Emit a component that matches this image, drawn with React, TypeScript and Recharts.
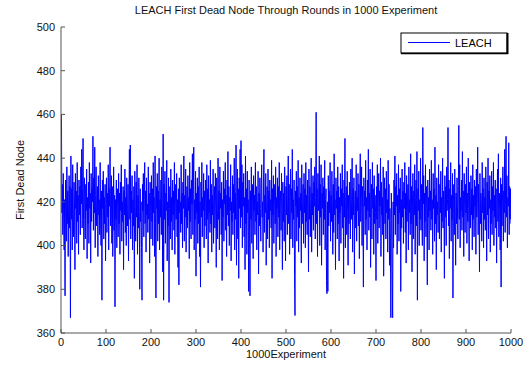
import React from 'react';
import { LineChart, Line, XAxis, YAxis, Legend } from 'recharts';

const TITLE = 'LEACH First Dead Node Through Rounds in 1000 Experiment';
const X_LABEL = '1000Experiment';
const Y_LABEL = 'First Dead Node';
const SERIES_NAME = 'LEACH';

const xTicks = [0, 100, 200, 300, 400, 500, 600, 700, 800, 900, 1000];
const yTicks = [360, 380, 400, 420, 440, 460, 480, 500];

const leachValues = [
  460, 415, 428, 405, 433, 412, 398, 421, 377, 430, 418, 402, 436, 410, 425, 395, 419, 432, 408, 427,
  367, 441, 412, 426, 398, 437, 415, 404, 429, 420, 389, 433, 417, 425, 401, 438, 411, 423, 396, 430,
  414, 427, 405, 436, 419, 444, 408, 426, 449, 412, 398, 431, 420, 403, 428, 416, 435, 394, 422, 410,
  429, 401, 438, 417, 424, 392, 433, 411, 426, 420, 450, 407, 431, 415, 445, 399, 423, 436, 409, 418,
  427, 395, 432, 414, 421, 405, 438, 412, 400, 425, 375, 430, 417, 434, 403, 422, 410, 428, 393, 419,
  431, 406, 424, 413, 437, 398, 426, 418, 445, 409, 420, 432, 401, 427, 395, 415, 436, 407, 423, 372,
  421, 412, 430, 399, 418, 426, 404, 433, 410, 424, 396, 429, 416, 437, 402, 420, 411, 427, 389, 425,
  414, 435, 406, 422, 400, 431, 417, 409, 428, 393, 419, 444, 412, 446, 403, 425, 415, 432, 398, 421,
  409, 427, 385, 434, 418, 402, 429, 413, 437, 396, 423, 408, 431, 415, 380, 426, 411, 420, 399, 375,
  428, 416, 433, 404, 421, 438, 410, 425, 397, 431, 414, 419, 406, 436, 412, 424, 392, 429, 418, 403,
  432, 411, 426, 400, 438, 415, 422, 395, 441, 408, 376, 427, 417, 433, 402, 425, 410, 440, 398, 421,
  413, 430, 405, 436, 419, 388, 451, 375, 428, 412, 434, 401, 424, 416, 439, 393, 420, 409, 431, 374,
  417, 427, 403, 435, 411, 422, 398, 430, 414, 425, 407, 438, 396, 419, 428, 412, 433, 404, 421, 390,
  426, 382, 431, 415, 420, 406, 437, 410, 424, 399, 429, 417, 441, 402, 423, 413, 435, 397, 418, 427,
  408, 432, 416, 422, 394, 438, 411, 426, 403, 430, 419, 442, 405, 425, 445, 398, 421, 412, 434, 386,
  424, 415, 431, 401, 427, 410, 436, 395, 420, 381, 429, 413, 438, 404, 422, 416, 433, 399, 425, 409,
  430, 418, 403, 437, 412, 426, 392, 432, 415, 421, 406, 439, 410, 428, 397, 423, 414, 435, 401, 419,
  427, 408, 433, 416, 390, 431, 420, 403, 440, 412, 425, 398, 436, 417, 424, 405, 429, 384, 421, 413,
  434, 402, 426, 419, 438, 407, 423, 395, 430, 414, 443, 409, 427, 400, 422, 416, 437, 393, 420, 411,
  432, 405, 428, 415, 440, 398, 424, 412, 446, 391, 419, 435, 403, 426, 385, 431, 417, 444, 408, 448,
  413, 437, 399, 429, 418, 433, 404, 422, 389, 441, 410, 426, 396, 434, 415, 421, 379, 430, 407, 377,
  425, 412, 436, 401, 419, 428, 394, 432, 416, 423, 405, 438, 411, 427, 398, 420, 414, 434, 387, 424,
  409, 431, 417, 402, 426, 437, 413, 420, 397, 429, 444, 406, 423, 415, 433, 391, 418, 427, 403, 435,
  412, 425, 399, 430, 416, 421, 408, 439, 385, 426, 414, 432, 401, 419, 428, 410, 436, 395, 422, 417,
  431, 404, 427, 413, 438, 398, 420, 425, 407, 433, 416, 389, 429, 411, 424, 402, 436, 418, 393, 427,
  414, 432, 405, 423, 441, 410, 428, 396, 419, 435, 403, 426, 415, 444, 399, 421, 412, 430, 386, 368,
  425, 418, 434, 402, 427, 413, 439, 397, 422, 408, 431, 416, 424, 392, 437, 410, 420, 428, 401, 433,
  415, 426, 399, 438, 411, 423, 405, 430, 419, 388, 435, 412, 427, 404, 421, 440, 397, 424, 414, 432,
  407, 429, 418, 436, 403, 422, 461, 410, 426, 395, 433, 416, 420, 441, 400, 428, 413, 437, 391, 424,
  417, 431, 405, 427, 412, 439, 398, 421, 426, 384, 378, 420, 379, 432, 409, 425, 415, 438, 402, 423,
  411, 434, 419, 396, 428, 406, 442, 414, 421, 389, 431, 417, 425, 403, 436, 410, 427, 393, 422, 415,
  433, 401, 426, 418, 437, 408, 424, 385, 430, 413, 449, 399, 420, 427, 405, 434, 416, 391, 423, 410,
  429, 417, 403, 435, 421, 412, 440, 397, 426, 414, 431, 387, 419, 425, 408, 437, 402, 422, 416, 433,
  409, 428, 394, 423, 442, 411, 420, 436, 400, 427, 415, 381, 431, 418, 425, 405, 439, 412, 422, 398,
  430, 416, 444, 407, 424, 413, 435, 390, 421, 428, 403, 438, 417, 426, 396, 432, 410, 423, 415, 384,
  427, 412, 437, 401, 420, 433, 408, 425, 418, 440, 395, 429, 414, 422, 405, 436, 386, 419, 431, 410,
  426, 403, 434, 415, 421, 397, 439, 412, 428, 391, 417, 402, 367, 424, 413, 389, 367, 420, 399, 430,
  414, 441, 405, 427, 418, 433, 396, 423, 410, 437, 402, 426, 415, 431, 379, 421, 408, 435, 413, 425,
  401, 429, 417, 438, 406, 424, 392, 432, 411, 420, 428, 398, 436, 415, 421, 405, 442, 410, 427, 388,
  419, 433, 403, 425, 414, 437, 396, 422, 430, 409, 443, 375, 426, 416, 434, 400, 421, 412, 440, 407,
  428, 415, 400, 454, 419, 432, 393, 424, 411, 437, 404, 427, 418, 382, 430, 413, 422, 398, 435, 416,
  425, 407, 439, 412, 421, 396, 433, 417, 426, 402, 445, 410, 423, 389, 431, 414, 420, 406, 437, 418,
  403, 428, 415, 434, 397, 422, 411, 440, 408, 425, 419, 385, 432, 413, 427, 400, 436, 416, 421, 454,
  409, 430, 394, 426, 417, 438, 402, 423, 412, 433, 376, 420, 428, 405, 435, 414, 391, 424, 410, 431,
  418, 403, 427, 455, 412, 437, 399, 422, 416, 430, 407, 443, 413, 425, 395, 433, 419, 406, 428, 415,
  436, 401, 424, 411, 440, 417, 393, 429, 420, 408, 432, 414, 426, 398, 437, 412, 423, 404, 430, 418,
  427, 396, 435, 413, 421, 445, 405, 428, 416, 388, 433, 410, 424, 419, 402, 438, 415, 426, 399, 431,
  412, 422, 407, 436, 418, 393, 429, 414, 440, 403, 425, 417, 432, 397, 421, 410, 434, 405, 427, 416,
  438, 400, 423, 413, 430, 408, 426, 392, 419, 435, 411, 442, 404, 424, 416, 398, 431, 381, 428, 409,
  420, 436, 402, 425, 415, 444, 406, 429, 450, 413, 432, 399, 422, 418, 447, 405, 427, 412, 426, 410,
];

const data = leachValues.map((v, i) => ({ experiment: i + 1, leach: v }));

const FONT = 'Arial, "Liberation Sans", Helvetica, sans-serif';

const LegendBox = () => (
  <svg width={110} height={24} style={{ display: 'block' }}>
    <rect x={1} y={1} width={106} height={20} fill="#fff" stroke="#000" strokeWidth={1} />
    <line x1={107.5} y1={1} x2={107.5} y2={22} stroke="#000" strokeWidth={2} />
    <line x1={1} y1={21.5} x2={108} y2={21.5} stroke="#000" strokeWidth={1.5} />
    <line x1={8} y1={10.5} x2={50} y2={10.5} stroke="#0000ff" strokeWidth={1} />
    <text x={55} y={15} fontSize={11} fontFamily={FONT} fill="#000">{SERIES_NAME}</text>
  </svg>
);

export default function App() {
  return (
    <div style={{ position: 'absolute', left: 0, top: 0, width: 530, height: 365, background: '#fff', fontFamily: FONT }}>
      <LineChart
        width={530}
        height={365}
        data={data}
        margin={{ top: 27, right: 19, bottom: 0, left: 0 }}
      >
        <XAxis
          dataKey="experiment"
          type="number"
          domain={[0, 1000]}
          ticks={xTicks}
          interval={0}
          height={32}
          stroke="#555"
          tickSize={-4}
          tickMargin={9}
          tick={{ fill: '#111', fontSize: 11, fontFamily: FONT }}
          allowDataOverflow
        />
        <YAxis
          type="number"
          domain={[360, 500]}
          ticks={yTicks}
          interval={0}
          width={61}
          stroke="#555"
          tickSize={-4}
          tickMargin={10}
          tick={{ fill: '#111', fontSize: 11, fontFamily: FONT }}
          allowDataOverflow
        />
        <Legend
          layout="vertical"
          align="center"
          verticalAlign="middle"
          wrapperStyle={{ left: 400, top: 32, width: 110, height: 24 }}
          content={() => <LegendBox />}
        />
        <Line
          type="linear"
          dataKey="leach"
          name={SERIES_NAME}
          stroke="#0000ff"
          strokeWidth={1}
          dot={false}
          activeDot={false}
          isAnimationActive={false}
        />
      </LineChart>
      <div style={{ position: 'absolute', left: 0, width: 572, top: 4, textAlign: 'center', fontSize: 11, color: '#111', whiteSpace: 'nowrap' }}>
        {TITLE}
      </div>
      <div style={{ position: 'absolute', left: 61, width: 450, top: 348, textAlign: 'center', fontSize: 11, color: '#111', whiteSpace: 'nowrap' }}>
        {X_LABEL}
      </div>
      <div style={{ position: 'absolute', left: 20, top: 180, width: 0, height: 0 }}>
        <div style={{ position: 'absolute', transform: 'translate(-50%, -50%) rotate(-90deg)', fontSize: 11, color: '#111', whiteSpace: 'nowrap' }}>
          {Y_LABEL}
        </div>
      </div>
    </div>
  );
}
